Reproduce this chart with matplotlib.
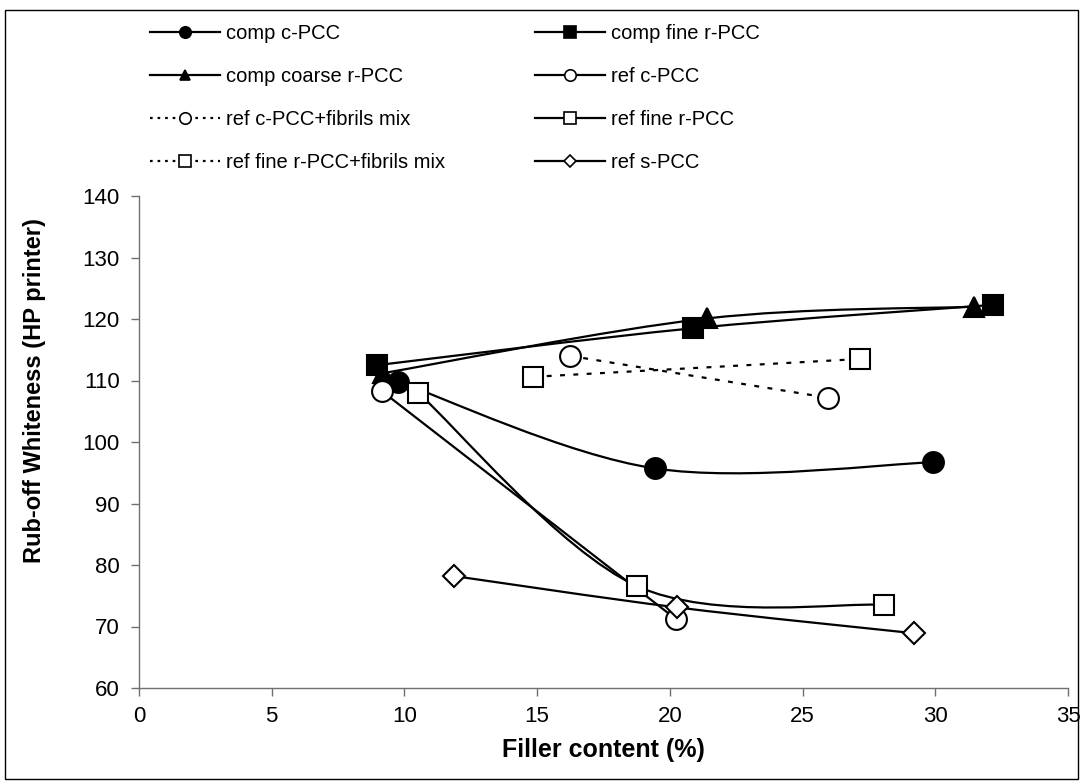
import numpy as np
import matplotlib
matplotlib.use("Agg")
import matplotlib.pyplot as plt
from matplotlib.path import Path
from matplotlib.patches import PathPatch, Rectangle
from matplotlib.lines import Line2D

plt.rcParams['font.family'] = ['Liberation Sans', 'DejaVu Sans']

# Filler content (%) and rub-off whiteness for each sheet series
comp_c_x = [9.77, 19.44, 29.93]
comp_c_y = [109.8, 95.7, 96.7]
comp_fine_x = [8.98, 20.89, 32.19]
comp_fine_y = [112.5, 118.5, 122.3]
comp_coarse_x = [9.2, 21.41, 31.46]
comp_coarse_y = [111.2, 120.1, 122.0]
ref_c_x = [9.14, 20.23]
ref_c_y = [108.3, 71.2]
ref_c_fib_x = [16.24, 25.95]
ref_c_fib_y = [114.0, 107.2]
ref_fine_x = [10.52, 18.75, 28.05]
ref_fine_y = [108.0, 76.6, 73.5]
ref_fine_fib_x = [14.86, 27.17]
ref_fine_fib_y = [110.6, 113.5]
ref_s_x = [11.87, 20.28, 29.21]
ref_s_y = [78.2, 73.1, 68.9]

labels = ["comp c-PCC", "comp fine r-PCC", "comp coarse r-PCC", "ref c-PCC",
          "ref c-PCC+fibrils mix", "ref fine r-PCC", "ref fine r-PCC+fibrils mix",
          "ref s-PCC"]
x_ticks = [0, 5, 10, 15, 20, 25, 30, 35]
y_ticks = [60, 70, 80, 90, 100, 110, 120, 130, 140]

DOT = (0, (2.2, 3.8))
series = [
    (comp_c_x, comp_c_y, 'o', 'black', '-', 15),
    (comp_fine_x, comp_fine_y, 's', 'black', '-', 15),
    (comp_coarse_x, comp_coarse_y, '^', 'black', '-', 14),
    (ref_c_x, ref_c_y, 'o', 'white', '-', 15),
    (ref_c_fib_x, ref_c_fib_y, 'o', 'white', DOT, 15),
    (ref_fine_x, ref_fine_y, 's', 'white', '-', 15),
    (ref_fine_fib_x, ref_fine_fib_y, 's', 'white', DOT, 15),
    (ref_s_x, ref_s_y, 'D', 'white', '-', 11.5),
]


def smooth_path(x, y):
    """Cubic Bezier through the points, tangents from neighbouring points."""
    p = np.column_stack([x, y]).astype(float)
    n = len(p)
    verts = [p[0]]
    codes = [Path.MOVETO]
    for i in range(n - 1):
        p0 = p[i - 1] if i > 0 else p[i]
        p3 = p[i + 2] if i + 2 < n else p[i + 1]
        c1 = p[i] + (p[i + 1] - p0) / 6.0
        c2 = p[i + 1] - (p3 - p[i]) / 6.0
        verts += [c1, c2, p[i + 1]]
        codes += [Path.CURVE4] * 3
    return Path(verts, codes)


W, H = 1083, 781
fig = plt.figure(figsize=(W / 100, H / 100), dpi=100)
ax = fig.add_axes([139 / W, 1 - 688 / H, (1068 - 139) / W, (688 - 196) / H])

LW = 1.6
z = 2
for (x, y, m, fc, ls, ms) in series:
    ax.add_patch(PathPatch(smooth_path(x, y), fill=False, edgecolor='black',
                           lw=LW, linestyle=ls, zorder=z, capstyle='butt'))
    ax.plot(x, y, linestyle='none', marker=m, markersize=ms,
            markerfacecolor=fc, markeredgecolor='black', markeredgewidth=1.5,
            zorder=z + 1, clip_on=False)
    z += 2

ax.set_xlim(0, 35)
ax.set_ylim(60, 140)
ax.set_xticks(x_ticks)
ax.set_yticks(y_ticks)
ax.tick_params(direction='out', length=6, width=1, color='#707070',
               labelsize=16)
ax.tick_params(axis='y', pad=8)
ax.tick_params(axis='x', pad=7)
for s in ['top', 'right']:
    ax.spines[s].set_visible(False)
for s in ['left', 'bottom']:
    ax.spines[s].set_color('#707070')
    ax.spines[s].set_linewidth(1)

ax.set_xlabel("Filler content (%)", fontsize=18, fontweight='bold', labelpad=8)
ax.set_ylabel("Rub-off Whiteness (HP printer)", fontsize=17, fontweight='bold')
ax.yaxis.set_label_coords(-0.100, 0.605)

# Legend: two columns of handles, read row by row
LEG_DOT = (0, (1.2, 2.2))
handles = []
for (x, y, m, fc, ls, ms), lab in zip(series, labels):
    handles.append(Line2D([], [], color='black', lw=LW,
                          linestyle=LEG_DOT if ls == DOT else ls, marker=m,
                          markersize=ms * 0.55, markerfacecolor=fc,
                          markeredgecolor='black', markeredgewidth=1.2))
left = [0, 2, 4, 6]
right = [1, 3, 5, 7]
for cols, xpos in [(left, 150), (right, 535)]:
    fig.legend([handles[i] for i in cols], [labels[i] for i in cols],
               loc='upper left', bbox_to_anchor=(xpos / W, 1 - 24 / H),
               frameon=False, fontsize=14.5, borderpad=0, borderaxespad=0,
               handlelength=3.5, handletextpad=0.25, labelspacing=1.2)

fig.add_artist(Rectangle((5 / W, 2 / H), (1078 - 5) / W, (771 - 2) / H,
                         transform=fig.transFigure, fill=False,
                         edgecolor='black', lw=1))

fig.savefig("out.png", dpi=100)
